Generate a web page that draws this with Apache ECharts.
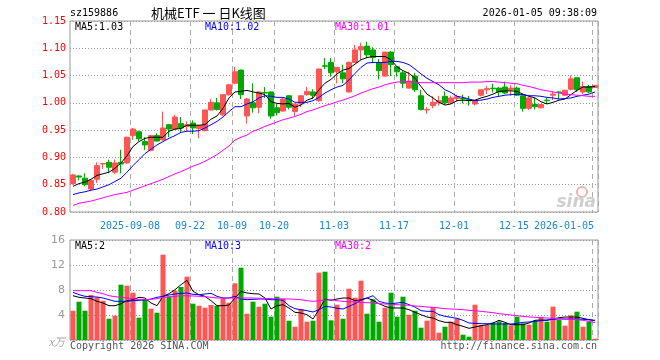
<!DOCTYPE html>
<html>
<head>
<meta charset="utf-8">
<script src="https://cdn.jsdelivr.net/npm/echarts@6.0.0/dist/echarts.min.js"></script>
<style>
html,body{margin:0;padding:0;background:#fff;}
#c{width:660px;height:360px;}
</style>
</head>
<body>
<div id="c"></div>
<script>
const dates = [
'2025-08-25','2025-08-26','2025-08-27','2025-08-28','2025-08-29',
'2025-09-01','2025-09-02','2025-09-03','2025-09-04','2025-09-05',
'2025-09-08','2025-09-09','2025-09-10','2025-09-11','2025-09-12',
'2025-09-15','2025-09-16','2025-09-17','2025-09-18','2025-09-19',
'2025-09-22','2025-09-23','2025-09-24','2025-09-25','2025-09-26',
'2025-09-29','2025-09-30',
'2025-10-09','2025-10-10','2025-10-13','2025-10-14','2025-10-15','2025-10-16','2025-10-17',
'2025-10-20','2025-10-21','2025-10-22','2025-10-23','2025-10-24',
'2025-10-27','2025-10-28','2025-10-29','2025-10-30','2025-10-31',
'2025-11-03','2025-11-04','2025-11-05','2025-11-06','2025-11-07',
'2025-11-10','2025-11-11','2025-11-12','2025-11-13','2025-11-14',
'2025-11-17','2025-11-18','2025-11-19','2025-11-20','2025-11-21',
'2025-11-24','2025-11-25','2025-11-26','2025-11-27','2025-11-28',
'2025-12-01','2025-12-02','2025-12-03','2025-12-04','2025-12-05',
'2025-12-08','2025-12-09','2025-12-10','2025-12-11','2025-12-12',
'2025-12-15','2025-12-16','2025-12-17','2025-12-18','2025-12-19',
'2025-12-22','2025-12-23','2025-12-24','2025-12-25','2025-12-26',
'2025-12-29','2025-12-30','2025-12-31',
'2026-01-05'
];
const opens = [
.852,.866,.862,.842,.860,.888,.891,.873,.891,.890,
.940,.947,.929,.913,.940,.932,.960,.952,.962,.957,
.963,.953,.949,.987,1.000,.978,1.015,1.036,1.060,.976,
1.000,.992,1.019,1.020,.991,.985,1.013,.984,.998,1.015,
1.020,1.004,1.068,1.074,1.057,1.055,1.020,1.074,1.097,1.104,
1.097,1.074,1.049,1.093,1.066,1.055,1.027,1.049,1.013,.987,
.995,1.000,1.012,1.000,1.008,1.008,1.006,.998,1.014,1.024,
1.027,1.027,1.029,1.024,1.027,1.013,.990,.997,.991,1.005,
1.014,1.020,1.014,1.025,1.046,1.020,1.030,1.028
];
const closes = [
.868,.864,.850,.858,.885,.889,.882,.890,.888,.937,
.952,.934,.923,.940,.930,.954,.952,.974,.954,.960,
.954,.958,.987,1.001,.988,1.015,1.033,1.057,1.015,1.007,
.991,1.020,1.018,.976,.982,1.007,.992,.998,1.013,1.021,
1.014,1.062,1.067,1.055,1.065,1.044,1.074,1.097,1.103,1.088,
1.083,1.059,1.093,1.070,1.057,1.036,1.040,1.024,.988,.988,
1.001,1.004,1.000,1.009,1.011,1.007,1.004,1.004,1.024,1.026,
1.026,1.020,1.018,1.027,1.014,.990,1.009,.993,.997,1.004,
1.016,1.019,1.023,1.044,1.024,1.030,1.020,1.032
];
const lows = [
.850,.858,.847,.838,.853,.879,.871,.870,.871,.888,
.932,.930,.914,.911,.929,.931,.937,.951,.945,.948,
.943,.935,.948,.986,.986,.976,1.013,1.034,1.007,.962,
.982,.981,1.009,.971,.977,.984,.988,.976,.992,1.013,
1.007,1.002,1.062,1.048,1.036,1.036,1.019,1.073,1.079,1.082,
1.074,1.043,1.048,1.049,1.048,1.027,1.026,1.020,.986,.980,
.990,.995,.997,.998,1.002,.999,.995,.995,1.012,1.016,
1.019,1.012,1.016,1.013,1.013,.984,.987,.988,.990,.998,
1.005,1.006,1.013,1.023,1.020,1.016,1.018,1.027
];
const highs = [
.870,.867,.871,.859,.891,.890,.896,.896,.914,.938,
.954,.949,.937,.940,.944,.984,.961,.978,.974,.966,
.968,.960,.987,1.007,1.009,1.016,1.035,1.066,1.061,1.009,
1.036,1.021,1.029,1.021,.998,1.009,1.014,.999,1.014,1.029,
1.025,1.063,1.082,1.082,1.065,1.070,1.076,1.106,1.110,1.112,
1.102,1.080,1.093,1.095,1.066,1.058,1.057,1.055,1.024,.992,
1.012,1.013,1.021,1.013,1.015,1.015,1.013,1.005,1.024,1.031,
1.035,1.029,1.039,1.033,1.030,1.014,1.010,1.009,.998,1.009,
1.021,1.021,1.024,1.050,1.046,1.039,1.033,1.033
];
const ma5 = [
.847,.852,.855,.860,.867,.870,.873,.880,.890,.903,
.920,.929,.935,.937,.937,.937,.948,.952,.953,.959,
.959,.959,.960,.970,.976,.990,1.009,1.020,1.021,1.023,
1.020,1.018,1.015,1.002,.999,.998,.999,.992,.996,1.005,
1.009,1.024,1.036,1.043,1.053,1.060,1.063,1.071,1.079,1.083,
1.085,1.085,1.085,1.079,1.066,1.059,1.054,1.045,1.030,1.016,
1.009,1.001,.996,.998,1.004,1.005,1.004,1.005,1.009,1.012,
1.016,1.021,1.022,1.022,1.021,1.016,1.012,1.009,1.002,.998,
1.001,1.005,1.007,1.015,1.023,1.029,1.029,1.030
];
const ma10 = [
.832,.835,.837,.840,.842,.846,.850,.856,.862,.873,
.885,.896,.907,.915,.923,.929,.935,.940,.946,.948,
.948,.949,.954,.960,.966,.974,.984,.993,.993,.998,
1.002,1.009,1.013,1.012,1.010,1.010,1.007,1.001,1.001,1.001,
1.004,1.010,1.018,1.024,1.029,1.032,1.042,1.054,1.065,1.073,
1.074,1.074,1.074,1.076,1.076,1.074,1.070,1.062,1.053,1.045,
1.039,1.033,1.024,1.019,1.012,1.010,1.007,1.004,1.005,1.007,
1.010,1.012,1.014,1.015,1.016,1.015,1.013,1.013,1.012,1.010,
1.009,1.007,1.008,1.009,1.012,1.014,1.016,1.020
];
const ma30 = [
.812,.816,.818,.820,.823,.826,.829,.832,.834,.836,
.840,.844,.848,.852,.856,.860,.865,.870,.874,.879,
.884,.888,.893,.899,.905,.913,.921,.932,.937,.941,
.948,.952,.957,.961,.965,.969,.972,.975,.979,.984,
.987,.991,.995,.998,1.002,1.005,1.009,1.013,1.018,1.022,
1.026,1.029,1.033,1.036,1.038,1.039,1.039,1.038,1.037,1.037,
1.037,1.037,1.037,1.037,1.037,1.037,1.038,1.038,1.038,1.039,
1.039,1.038,1.037,1.036,1.035,1.032,1.030,1.027,1.024,1.022,
1.020,1.018,1.016,1.015,1.014,1.013,1.012,1.012
];
const volumes = [
4.69,6.13,4.69,7.20,6.83,6.29,3.41,3.89,8.85,8.69,
7.57,3.57,6.56,5.01,4.37,13.65,6.99,7.89,8.48,10.13,
5.81,5.49,5.17,5.60,5.49,6.67,5.97,9.07,11.57,4.21,
6.13,5.33,5.81,3.73,6.93,6.61,3.09,2.13,4.96,2.93,
3.09,10.77,10.93,3.15,5.65,3.41,8.21,6.77,9.49,4.21,
6.51,2.93,5.17,7.57,3.73,6.93,4.05,4.69,1.97,3.09,
5.28,1.17,2.13,2.93,3.47,0.85,0.53,5.65,2.40,2.40,
2.77,2.99,2.72,2.35,3.73,2.67,2.45,3.09,3.68,2.93,
5.33,3.20,2.29,3.95,4.53,2.13,2.93,0.21
];
const volMa5 = [
7.09,6.83,6.72,6.61,6.19,5.92,5.49,5.49,5.81,6.29,
6.45,6.83,6.72,5.92,5.49,6.99,7.41,8.05,8.85,9.55,
7.79,7.25,6.99,6.29,5.49,5.49,5.60,6.72,7.79,7.52,
7.41,7.36,6.72,4.96,5.49,5.65,5.12,4.43,4.32,4.05,
3.36,4.85,6.56,6.35,6.56,6.72,6.72,6.29,6.45,6.72,
6.35,5.81,5.39,5.12,5.12,5.12,4.85,4.43,4.05,3.68,
3.52,3.09,2.83,2.83,2.45,2.19,1.87,2.08,2.29,2.45,
2.72,3.15,2.83,2.45,2.45,2.45,2.72,3.15,3.20,3.15,
3.36,3.57,3.68,3.68,3.68,3.47,3.25,3.15
];
const volMa10 = [
7.63,7.25,6.99,6.93,6.88,6.72,6.45,6.19,6.19,6.19,
6.29,6.35,6.40,6.56,6.83,6.99,7.20,7.36,7.47,7.52,
7.31,7.25,7.36,7.47,6.99,6.72,6.72,6.99,6.56,6.45,
6.51,6.56,6.56,6.45,6.45,6.35,5.49,5.01,4.85,4.69,
4.48,4.85,5.39,5.28,5.07,4.96,5.39,5.81,6.35,6.72,
7.09,6.19,5.92,5.81,5.92,6.03,5.65,5.28,4.69,4.59,
4.59,4.05,3.79,3.63,3.47,3.15,2.72,2.67,2.61,2.61,
2.56,2.56,2.56,2.56,2.67,2.83,2.88,2.99,3.09,3.20,
3.31,3.36,3.36,3.36,3.36,3.31,3.25,3.09
];
const volMa30 = [
7.89,7.89,7.89,7.89,7.63,7.41,7.09,6.93,6.83,6.72,
6.61,6.45,6.45,6.51,6.61,6.83,6.88,6.99,7.09,7.09,
7.04,6.99,6.93,6.83,6.72,6.72,6.72,6.72,6.72,6.72,
6.72,6.67,6.67,6.61,6.61,6.56,6.56,6.51,6.45,6.29,
6.19,6.29,6.40,6.45,6.29,6.19,6.13,6.08,6.03,5.97,
5.92,5.81,5.76,5.71,5.65,5.60,5.55,5.44,5.39,5.28,
5.23,5.12,5.01,4.96,4.91,4.85,4.75,4.69,4.59,4.48,
4.37,4.21,4.11,4.00,3.89,3.79,3.68,3.63,3.57,3.52,
3.47,3.41,3.36,3.31,3.25,3.15,2.99,2.77
];
const priceMin = 0.80, priceMax = 1.15, priceStep = 0.05;
const volMin = 0, volMax = 16, volStep = 4;
const labelIdx = [10, 20, 27, 34, 44, 54, 64, 74, 87];
const fullLabelIdx = [10, 87];
const legendPrice = ['MA5:1.03', 'MA10:1.02', 'MA30:1.01'];
const legendVol = ['MA5:2', 'MA10:3', 'MA30:2'];
const code = 'sz159886';
const titleText = '机械ETF 一 日K线图';
const timeText = '2026-01-05 09:38:09';
const copyText = 'Copyright 2026 SINA.COM';
const urlText = 'http://finance.sina.com.cn';

const UP = '#ff5555', DOWN = '#00a800';
const MONO = '"DejaVu Sans Mono", "Liberation Mono", monospace';

const candleData = dates.map((d, i) => [opens[i], closes[i], lows[i], highs[i]]);
const volData = volumes.map((v, i) => ({
  value: v,
  itemStyle: { color: closes[i] >= opens[i] ? UP : DOWN }
}));

const showIdx = (i) => labelIdx.indexOf(i) >= 0;
const dashed = { color: '#aaa', type: [5, 4], width: 1 };
const dotted = { color: '#999', type: [1, 2], width: 1 };

function xAxisBase(grid, withLabels) {
  return {
    type: 'category', gridIndex: grid, data: dates, boundaryGap: true,
    axisLine: { show: false }, axisTick: { show: false },
    axisLabel: withLabels ? {
      show: true, interval: (i) => showIdx(i), hideOverlap: false, margin: 9,
      formatter: (v, i) => {
        const idx = dates.indexOf(v);
        if (idx === fullLabelIdx[1]) return '{e|' + v + '}';
        if (idx === fullLabelIdx[0]) return '{n|' + v + '}';
        return '{n|' + v.slice(5) + '}';
      },
      rich: {
        n: { color: '#1a88d4', fontFamily: MONO, fontSize: 10, padding: [0, 6, 0, 0] },
        e: { color: '#1a88d4', fontFamily: MONO, fontSize: 10, padding: [0, 62, 0, 0] }
      }
    } : { show: false },
    splitLine: { show: true, interval: (i) => showIdx(i), lineStyle: dashed }
  };
}

const chart = echarts.init(document.getElementById('c'), null, { renderer: 'canvas' });
const txt = (x, y, text, color, extra) => Object.assign({
  type: 'text', x: x, y: y, z: 100,
  style: Object.assign({ text: text, fill: color, font: '10px ' + MONO, textVerticalAlign: 'middle', verticalAlign: 'middle' }, extra || {})
});

chart.setOption({
  animation: false,
  backgroundColor: '#fff',
  grid: [
    { left: 70, right: 62, top: 21, height: 191, show: true, borderColor: '#999', borderWidth: 1, backgroundColor: 'transparent' },
    { left: 70, right: 62, top: 240, height: 100, show: true, borderColor: '#999', borderWidth: 1, backgroundColor: 'transparent' }
  ],
  xAxis: [xAxisBase(0, true), xAxisBase(1, false)],
  yAxis: [
    {
      type: 'value', gridIndex: 0, min: priceMin, max: priceMax, interval: priceStep,
      axisLine: { show: false }, axisTick: { show: false },
      axisLabel: { color: '#ff0000', fontFamily: MONO, fontSize: 10, margin: 4, formatter: (v) => v.toFixed(2) },
      splitLine: { show: true, lineStyle: dotted }
    },
    {
      type: 'value', gridIndex: 1, min: volMin, max: volMax, interval: volStep,
      axisLine: { show: false }, axisTick: { show: false },
      axisLabel: { color: '#999', fontFamily: 'DejaVu Sans, sans-serif', fontSize: 11, margin: 5,
        formatter: (v) => v === 0 ? '{u|x万}' : String(v),
        rich: { u: { color: '#aaa', fontSize: 11, fontStyle: 'italic', fontFamily: '"Noto Sans CJK SC", sans-serif', padding: [4, 0, 0, 0] } } },
      splitLine: { show: true, lineStyle: dotted }
    }
  ],
  series: [
    {
      type: 'candlestick', xAxisIndex: 0, yAxisIndex: 0, data: candleData, barWidth: 5,
      itemStyle: { color: UP, color0: DOWN, borderColor: UP, borderColor0: DOWN, borderWidth: 1 },
      z: 2
    },
    { type: 'line', xAxisIndex: 0, yAxisIndex: 0, data: ma5, showSymbol: false, symbol: 'none', lineStyle: { color: '#000', width: 1 }, z: 3 },
    { type: 'line', xAxisIndex: 0, yAxisIndex: 0, data: ma10, showSymbol: false, symbol: 'none', lineStyle: { color: '#0000ff', width: 1 }, z: 3 },
    { type: 'line', xAxisIndex: 0, yAxisIndex: 0, data: ma30, showSymbol: false, symbol: 'none', lineStyle: { color: '#ff00ff', width: 1 }, z: 3 },
    { type: 'bar', xAxisIndex: 1, yAxisIndex: 1, data: volData, barWidth: 5, z: 2 },
    { type: 'line', xAxisIndex: 1, yAxisIndex: 1, data: volMa5, showSymbol: false, symbol: 'none', lineStyle: { color: '#000', width: 1 }, z: 3 },
    { type: 'line', xAxisIndex: 1, yAxisIndex: 1, data: volMa10, showSymbol: false, symbol: 'none', lineStyle: { color: '#0000ff', width: 1 }, z: 3 },
    { type: 'line', xAxisIndex: 1, yAxisIndex: 1, data: volMa30, showSymbol: false, symbol: 'none', lineStyle: { color: '#ff00ff', width: 1 }, z: 3 }
  ],
  graphic: [
    txt(70, 13, code, '#000'),
    txt(151, 13, titleText, '#000', { font: '13px "Noto Sans CJK SC", sans-serif' }),
    txt(597, 13, timeText, '#000', { textAlign: 'right', align: 'right' }),
    txt(75, 27, legendPrice[0], '#000'),
    txt(205, 27, legendPrice[1], '#0000ff'),
    txt(335, 27, legendPrice[2], '#ff00ff'),
    txt(75, 246, legendVol[0], '#000'),
    txt(205, 246, legendVol[1], '#0000ff'),
    txt(335, 246, legendVol[2], '#ff00ff'),
    txt(70, 346, copyText, '#555'),
    txt(597, 346, urlText, '#555', { textAlign: 'right', align: 'right' }),
    { type: 'circle', z: 90, shape: { cx: 582, cy: 192, r: 5 }, style: { fill: 'none', stroke: '#f3b0b0', lineWidth: 2 } },
    txt(596, 203, 'sina', '#cfcfcf', { textAlign: 'right', align: 'right', font: 'italic bold 17px "DejaVu Sans", sans-serif' })
  ]
});
</script>
</body>
</html>
